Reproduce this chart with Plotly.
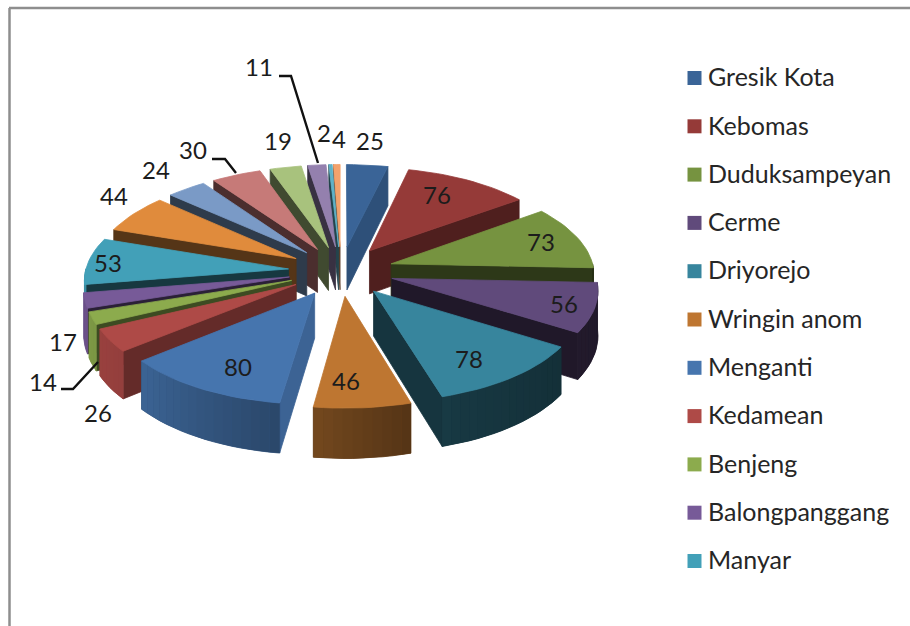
import math
import plotly.graph_objects as go

# ---- data ----
legend_names = ["Gresik Kota", "Kebomas", "Duduksampeyan", "Cerme", "Driyorejo", "Wringin anom",
                "Menganti", "Kedamean", "Benjeng", "Balongpanggang", "Manyar"]
values = [25, 76, 73, 56, 78, 46, 80, 26, 14, 17, 53, 44, 24, 30, 19, 11, 2, 4]
colors = ["#3A6497", "#953A38", "#769340", "#604A7B", "#37859D", "#BE7631", "#4675AE", "#AE4A47", "#8CAB4D",
          "#775A98", "#42A0B8", "#E08B3C", "#7A9AC6", "#C67A78", "#A8C27D", "#9480AE", "#5FB2C8", "#F3A26C"]

# ---- projection of the exploded, tilted pie ----
CX, CY, RX, RY, EXPLODE, PERSP, DEPTH = 341, 271, 203, 95.2, 0.26, 0.10, 44


def project(gx, gy, drop=0.0):
    s = 1 / (1 + PERSP * gy)
    return CX + RX * gx * s, CY - RY * gy * s + DEPTH * s * drop


def lerp_table(table, a):
    a = a % 360
    for (a0, v0), (a1, v1) in zip(table, table[1:]):
        if a0 <= a <= a1:
            return v0 + (v1 - v0) * (a - a0) / (a1 - a0)
    return table[-1][1]


OUTER_SHADE = [(0, .3), (90, .32), (125, .36), (160, .42), (175, .52), (190, .62), (230, .85), (255, .9), (280, .9), (360, .3)]
RADIAL_SHADE = [(0, .8), (13, .8), (53, .53), (92, .38), (122, .33), (163, .4), (165, .4), (187, .85), (189, .85),
                (230, .58), (243, .45), (252, .35), (261, .35), (289, .38), (360, .38)]


def shade(hex_color, f):
    r, g, b = (int(hex_color[i:i + 2], 16) for i in (1, 3, 5))
    return f"rgb({r * f:.0f},{g * f:.0f},{b * f:.0f})"


def polygon(fig, pts, color, width=0.8):
    xs = [p[0] for p in pts] + [pts[0][0]]
    ys = [p[1] for p in pts] + [pts[0][1]]
    fig.add_trace(go.Scatter(x=xs, y=ys, mode="lines", fill="toself", fillcolor=color,
                             line=dict(color=color, width=width), hoverinfo="skip", showlegend=False))


fig = go.Figure()
total = sum(values)
slices = []
cum = 0
for v, c in zip(values, colors):
    a0, a1 = cum / total * 360, (cum + v) / total * 360
    cum += v
    mid = math.radians((a0 + a1) / 2)
    ox, oy = EXPLODE * math.sin(mid), EXPLODE * math.cos(mid)
    slices.append((oy + 0.6 * math.cos(mid), a0, a1, ox, oy, c))

for _, a0, a1, ox, oy, c in sorted(slices, key=lambda s: -s[0]):
    steps = max(2, int((a1 - a0) / 2.5) + 1)
    angs = [a0 + (a1 - a0) * i / steps for i in range(steps + 1)]
    rim = lambda a: (ox + math.sin(math.radians(a)), oy + math.cos(math.radians(a)))

    # radial walls
    for a, vis in ((a0, math.sin(math.radians(a0)) < 0), (a1, math.sin(math.radians(a1)) > 0)):
        if vis:
            gx, gy = rim(a)
            polygon(fig, [project(ox, oy), project(gx, gy), project(gx, gy, 1), project(ox, oy, 1)],
                    shade(c, lerp_table(RADIAL_SHADE, a)))
    # outer wall: one solid underlay, then borderless strips for the shading
    wall = [(b0, b1) for b0, b1 in zip(angs, angs[1:]) if math.cos(math.radians((b0 + b1) / 2)) < 0.02]
    if wall:
        mids = [(b0 + b1) / 2 for b0, b1 in wall]
        edge = [wall[0][0]] + [b1 for _, b1 in wall]
        polygon(fig, [project(*rim(b)) for b in edge] + [project(*rim(b), 1) for b in reversed(edge)],
                shade(c, lerp_table(OUTER_SHADE, mids[len(mids) // 2])))
        for (b0, b1), m in zip(wall, mids):
            polygon(fig, [project(*rim(b0)), project(*rim(b1)), project(*rim(b1), 1), project(*rim(b0), 1)],
                    shade(c, lerp_table(OUTER_SHADE, m)), width=0)
    # top face
    polygon(fig, [project(ox, oy)] + [project(*rim(a)) for a in angs], c)

# ---- leader lines and value labels ----
label_pos = [(370, 144), (437, 198), (541, 245), (564, 307), (469, 362), (346, 384), (238, 370), (98, 416),
             (43, 385), (63, 345), (108, 266), (114, 199), (156, 173), (193, 153), (278, 144), (259, 70),
             (324, 136), (339, 142)]
leaders = [([279, 291, 318], [76, 76, 163]), ([212, 225, 236], [159, 159, 173]), ([61, 73, 98], [389, 389, 362])]
for lx, ly in leaders:
    fig.add_trace(go.Scatter(x=lx, y=ly, mode="lines", line=dict(color="#111111", width=2.4),
                             hoverinfo="skip", showlegend=False))
fig.add_trace(go.Scatter(x=[p[0] for p in label_pos], y=[p[1] for p in label_pos], text=[str(v) for v in values],
                         mode="text", textposition="middle center",
                         textfont=dict(family="Lato", size=24, color="#1c1c1c"), hoverinfo="skip", showlegend=False))

# ---- legend (the reference cuts it off after eleven entries) ----
leg_y = [78 + 48.3 * i for i in range(len(legend_names))]
fig.add_trace(go.Scatter(x=[694.5] * len(legend_names), y=leg_y, mode="markers",
                         marker=dict(symbol="square", size=14, color=colors[:len(legend_names)]),
                         hoverinfo="skip", showlegend=False))
fig.add_trace(go.Scatter(x=[708] * len(legend_names), y=[y + 2 for y in leg_y], mode="text", text=legend_names,
                         textposition="middle right",
                         textfont=dict(family="Lato", size=25, color="#262626"), hoverinfo="skip", showlegend=False))

# ---- frame ----
frame = dict(color="#8E8E8E", width=2.5)
fig.add_shape(type="line", x0=9.5, x1=9.5, y0=8, y1=626, line=frame, layer="above")
fig.add_shape(type="line", x0=9, x1=910, y0=8, y1=8, line=frame, layer="above")

fig.update_layout(width=910, height=626, margin=dict(l=0, r=0, t=0, b=0), paper_bgcolor="white", plot_bgcolor="white",
                  showlegend=False,
                  xaxis=dict(range=[0, 910], visible=False, fixedrange=True),
                  yaxis=dict(range=[626, 0], visible=False, fixedrange=True))
fig.write_html("out.html", config={"displayModeBar": False},
               post_script="document.body.style.margin='0';")
